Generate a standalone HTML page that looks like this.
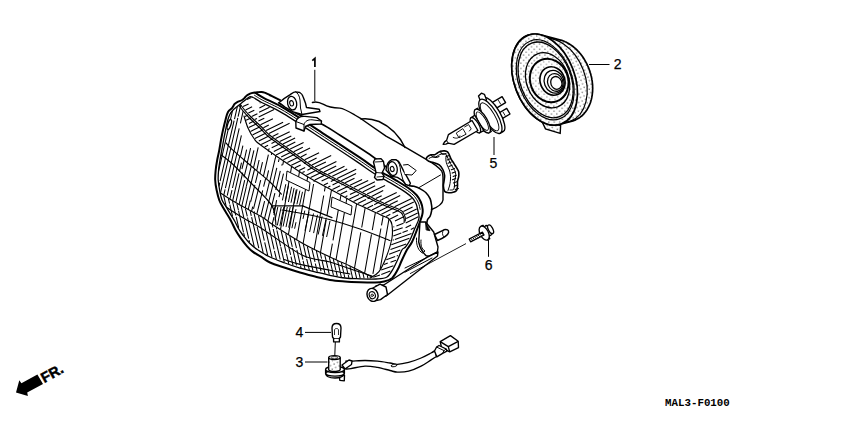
<!DOCTYPE html>
<html><head><meta charset="utf-8">
<style>
html,body{margin:0;padding:0;background:#fff;width:850px;height:425px;overflow:hidden}
svg{display:block}
</style></head><body>
<svg width="850" height="425" viewBox="0 0 850 425" style="font-family:'Liberation Sans',sans-serif">
<defs>
<pattern id="dots" width="5.4" height="5.4" patternUnits="userSpaceOnUse" patternTransform="rotate(20)"><circle cx="1" cy="1" r="0.62" fill="#000"/><circle cx="3.7" cy="3.7" r="0.55" fill="#000"/></pattern>
</defs>
<path d="M246.9 99.6L251.3 97.5M243.0 106.6L248.6 103.9M245.6 109.9L252.1 106.7M248.4 113.1L254.3 110.2M251.7 116.5L257.4 113.8M254.7 119.5L257.0 118.4" stroke="#000" stroke-width="1.10" fill="none"/>
<path d="M259.7 103.1L260.4 102.7M259.4 108.0L265.2 105.1M259.1 112.3L269.6 107.2M258.7 116.9L274.1 109.4M258.4 121.0L264.3 118.2M260.5 124.8L272.9 118.8M263.4 127.7L268.8 125.1M266.1 130.5L283.1 122.2M268.9 133.4L289.6 123.3M272.5 136.4L278.4 133.5M275.6 138.6L289.7 131.7M279.7 141.6L291.3 135.9M282.9 143.9L295.1 137.9M286.4 146.4L295.3 142.0M290.2 149.1L303.6 142.6M293.7 151.7L302.8 147.2M297.3 154.2L310.1 148.0M300.9 156.9L306.6 154.1M304.7 159.7L319.1 152.7M308.2 162.2L316.6 158.1M311.9 164.9L331.2 155.5M315.1 167.1L325.9 161.9M319.5 169.8L336.4 161.5M324.0 172.1L336.2 166.1M328.2 174.2L344.5 166.3M332.3 176.2L347.2 169.0M337.1 178.6L356.2 169.3M341.2 180.7L356.1 173.4M345.2 182.8L354.5 178.2M350.0 185.3L362.1 179.4M353.9 187.3L368.2 180.4M358.6 189.7L374.9 181.8M362.7 191.9L375.2 185.8M367.1 194.1L385.1 185.4M371.5 196.4L383.2 190.6M375.8 198.5L381.7 195.7M380.0 200.6L396.7 192.4M385.2 203.0L400.2 195.6M389.6 204.8L397.8 200.8M394.6 206.7L411.7 198.4M399.7 208.8L413.8 201.9M403.4 211.4L412.6 206.9M405.2 214.6L416.7 209.0M406.2 218.5L417.7 212.9M405.7 222.9L418.3 216.7M405.6 227.7L411.1 225.0M410.8 229.4L414.2 227.7" stroke="#000" stroke-width="1.10" fill="none"/>
<path d="M244.6 112.4L245.3 112.1M245.0 116.5L248.0 115.0M246.1 120.3L250.9 118.0M249.0 123.5L254.0 121.0M248.7 127.6L256.9 123.6M250.5 131.4L260.2 126.7M252.5 134.9L263.1 129.7M254.9 138.4L266.1 132.9M258.8 141.0L269.3 135.8M261.2 144.4L272.9 138.7M264.6 146.9L268.1 145.2M271.5 143.5L276.3 141.1M268.2 149.4L269.6 148.8M271.7 147.7L280.0 143.7M273.8 151.4L283.8 146.5M276.1 154.9L287.6 149.3M281.2 156.9L291.3 151.9M283.4 159.8L294.7 154.3M287.4 162.6L298.5 157.1M291.3 165.3L302.3 159.9M295.0 167.7L300.7 165.0M304.0 163.4L305.8 162.5M299.0 170.4L305.2 167.4M308.5 165.8L309.6 165.2M302.4 172.6L304.7 171.5M307.4 170.2L312.8 167.5M306.3 175.2L316.8 170.1M310.6 177.6L321.2 172.5M314.8 180.0L325.5 174.7M321.6 181.1L330.1 177.0M323.9 185.0L328.0 183.0M330.8 181.6L335.2 179.5M328.1 187.2L330.4 186.1M332.5 185.1L339.5 181.6M332.4 189.5L340.1 185.8M341.4 185.1L343.9 183.9M337.2 191.6L348.3 186.2M340.7 194.0L347.1 190.9M349.7 189.6L352.4 188.3M345.5 196.7L347.4 195.8M349.9 194.6L357.4 190.9M349.4 199.1L359.1 194.4M353.5 201.4L365.9 195.3M357.8 203.5L366.1 199.5M367.6 198.7L370.1 197.5M362.7 205.7L374.8 199.8M367.5 207.9L373.1 205.2M374.2 204.7L379.4 202.1M372.0 210.0L384.0 204.1M377.0 212.2L389.1 206.3M381.4 214.2L393.8 208.1M386.1 216.4L390.3 214.3M392.5 213.2L398.8 210.2M390.1 218.9L398.1 215.0M401.5 213.3L402.5 212.9M395.0 221.0L404.2 216.6" stroke="#000" stroke-width="1.10" fill="none"/>
<path d="M393.3 227.0L394.3 226.7M396.4 225.9L403.5 223.3M393.3 231.1L402.7 227.7M393.3 235.9L401.3 233.0M402.5 232.6L407.8 230.6M392.7 240.2L393.8 239.8M394.9 239.4L411.5 233.4M391.3 244.8L409.4 238.2M390.5 249.6L406.2 243.9M389.1 254.2L400.3 250.1M386.3 259.8L395.2 256.6M396.7 256.0L398.0 255.6M384.0 264.5L387.8 263.1M390.5 262.2L396.0 260.2M381.2 270.1L393.4 265.7M373.2 277.3L380.0 274.9M381.3 274.4L390.3 271.1" stroke="#000" stroke-width="1.05" fill="none"/>
<path d="M218.5 171.4L228.5 128.1M228.8 126.8L232.5 110.6M218.9 186.4L219.8 182.6M220.1 181.2L234.1 120.6M234.5 119.1L237.4 106.3M220.5 192.8L237.8 117.9M238.1 116.6L240.8 104.9M223.8 195.1L225.1 189.4M225.4 188.2L233.9 151.1M240.4 123.3L243.2 110.8M227.2 195.6L236.9 153.7M229.9 199.0L232.0 190.1M232.5 188.0L239.8 156.2M232.7 200.7L239.0 173.3M239.4 171.8L241.5 162.6M235.8 202.5L242.7 172.6M239.1 204.5L244.7 180.1M241.8 206.0L246.4 186.3M245.2 207.9L248.4 194.0M248.2 209.5L250.3 200.6M251.6 211.3L252.7 206.7M254.3 212.7L254.6 211.5" stroke="#000" stroke-width="1.05" fill="none"/>
<path d="M241.9 169.0L244.2 160.0M244.0 177.4L247.6 162.9M246.3 186.3L251.3 166.1M248.4 194.0L254.6 169.0M250.7 201.7L254.9 184.8M255.4 182.8L258.1 171.9M253.5 208.9L260.7 180.1M256.8 214.1L262.7 190.4M263.6 186.6L265.7 178.3M260.8 216.3L264.6 201.1M265.8 196.7L269.5 181.6M264.5 218.6L272.9 185.1M267.9 221.2L274.9 193.2M275.7 190.0L276.1 188.5M272.2 224.3L274.0 217.2M279.0 197.1L280.1 192.7M268.2 151.5L268.5 150.6M271.4 154.8L271.8 152.9M275.2 158.8L276.0 155.8M278.4 162.0L279.1 159.1M281.8 165.6L282.3 163.9" stroke="#000" stroke-width="1.05" fill="none"/>
<path d="M367.2 275.2L368.0 278.6M362.9 273.0L364.1 278.4M358.5 270.8L360.2 278.3M354.4 268.7L356.6 278.2M350.0 266.5L352.6 278.1M345.8 264.7L347.8 273.4M348.3 275.2L348.9 277.9M341.4 262.7L344.8 277.5M337.7 261.1L341.3 277.0M333.3 259.1L335.8 270.0M336.0 270.6L337.3 276.3M329.3 257.2L333.5 275.5M324.8 255.1L327.8 267.8M327.9 268.4L329.3 274.6M320.2 252.9L321.6 258.6M321.9 259.9L325.0 273.7M316.4 251.0L321.0 271.1M311.9 248.8L315.0 261.9M315.3 263.5L317.3 271.8M307.3 246.4L313.0 270.8M303.3 244.2L306.5 258.2M306.7 259.0L309.3 270.0M298.7 241.6L302.9 259.6M303.1 260.9L305.0 269.0M294.3 239.0L296.5 248.1M296.9 249.9L300.2 264.4M300.5 265.6L301.0 268.0M289.8 236.2L292.3 246.8M292.5 247.9L296.5 265.3M285.7 233.6L290.6 254.9M291.0 256.6L293.0 265.4M281.1 230.6L286.2 252.8M286.4 253.5L288.8 263.9M276.3 227.5L276.7 229.4M276.9 230.4L280.6 246.3M280.8 247.2L284.3 262.2M272.3 224.9L272.9 227.5M273.2 229.0L280.2 259.5M267.7 221.6L274.1 249.3M274.4 250.8L276.4 259.2M262.9 218.2L265.8 230.7M266.2 232.2L272.0 257.4M258.5 215.6L264.3 240.7M264.7 242.4L267.7 255.3M254.0 213.1L256.7 224.7M257.1 226.6L263.2 252.8M250.2 211.1L251.3 215.9M251.6 217.1L258.8 248.2M245.4 208.6L247.3 216.4M247.5 217.5L254.2 246.7M241.2 206.2L243.9 218.0M244.3 219.5L248.7 238.7M249.0 240.2L249.6 242.4M236.9 203.8L238.4 210.0M238.5 210.7L243.5 232.3M243.7 233.1L244.5 236.4M232.5 201.2L235.8 215.5M236.2 216.8L238.7 227.9M228.4 198.7L229.6 203.6M229.8 204.6L232.6 216.5M223.7 195.6L226.1 205.8" stroke="#000" stroke-width="1.05" fill="none"/>
<path d="M274.0 215.2L276.6 200.1M282.9 164.7L283.5 160.9M280.5 229.6L289.8 176.9M290.5 172.9L291.6 166.4M288.4 234.7L296.3 189.5M297.1 185.3L299.5 171.6M296.6 239.8L306.0 186.6M306.7 182.3L307.7 176.9M303.1 243.5L313.6 184.0M314.0 181.8L314.2 180.6M314.2 249.3L323.7 195.5M324.4 191.3L325.3 186.6M320.5 252.4L326.2 219.9M327.0 215.4L331.5 189.9M330.0 257.0L332.4 243.6M333.0 240.4L339.6 202.7M340.0 200.5L341.0 195.0M336.0 259.8L344.4 212.6M345.0 209.0L346.8 198.5M345.9 264.2L356.6 203.8M354.5 268.2L360.8 232.4M361.7 227.5L365.2 207.7M364.6 273.3L371.5 234.3M372.3 230.1L375.4 212.3M372.9 273.8L380.9 228.5M381.5 225.4L383.2 215.9M380.1 269.4L389.0 218.8" stroke="#000" stroke-width="1.05" fill="none"/>
<path d="M234.0 151.1L239.2 128.4M237.2 153.9L241.4 135.4M240.4 156.7L242.9 145.7M244.3 160.0L246.6 149.7M247.3 162.6L250.6 148.2M250.4 165.3L253.9 150.3M253.5 167.9L258.2 147.4M256.7 170.7L259.1 160.0M259.9 173.4L262.5 162.2M263.4 176.4L268.4 154.6M266.6 179.1L268.6 170.4M269.8 181.8L275.2 158.7M272.8 185.0L276.8 167.9M276.2 188.5L280.3 170.8M279.3 191.8L283.5 173.6" stroke="#000" stroke-width="1.05" fill="none"/>
<path d="M282.4 200.4L285.8 184.2M285.2 201.1L288.5 185.4M288.4 202.0L291.6 186.8M291.0 202.7L294.1 188.0M294.1 203.6L297.1 189.3M296.9 204.3L299.9 190.6M299.6 205.1L302.5 191.8M302.8 205.9L303.0 205.0" stroke="#000" stroke-width="1.00" fill="none"/>
<path d="M273.5 213.2L274.9 207.0M275.0 220.3L277.8 207.0M277.3 225.4L281.2 207.0M279.9 225.9L283.9 207.0M283.1 226.5L287.3 207.0M286.0 227.1L290.2 207.0M288.7 227.6L293.1 207.0M291.9 228.2L296.0 209.1M294.6 228.7L296.0 222.2" stroke="#000" stroke-width="1.00" fill="none"/>
<path d="M303.0 218.9L304.8 210.6M305.0 230.6L309.0 212.0M309.6 232.0L313.5 213.5M313.6 233.1L317.5 214.8M318.2 234.5L322.1 216.4M322.4 235.8L326.3 217.8M326.6 237.0L330.0 221.0" stroke="#000" stroke-width="1.00" fill="none"/>
<path d="M287.0,171.0 L310.0,182.5 L309.0,191.0 L286.0,180.0 Z" fill="#fff" stroke="#000" stroke-width="1"/>
<path d="M332.0,197.0 L352.0,206.0 L351.0,215.0 L331.0,207.0 Z" fill="#fff" stroke="#000" stroke-width="1"/>
<clipPath id="lc2"><path d="M253.2,97.5 C255.2,98.4 256.6,99.8 261.6,102.5 C266.7,105.2 273.2,107.4 283.4,113.6 C293.7,119.7 311.0,131.4 323.3,139.5 C335.6,147.5 348.8,156.2 357.2,161.9 C365.6,167.5 367.7,169.4 373.7,173.2 C379.8,177.0 388.0,181.4 393.4,184.6 C398.8,187.8 402.9,190.3 406.1,192.6 C409.3,194.8 411.0,196.4 412.7,198.3 C414.4,200.2 415.4,202.1 416.2,204.0 C417.0,205.9 417.2,207.2 417.6,209.5 C418.1,211.9 419.4,214.9 419.0,218.0 C418.6,221.1 416.5,224.3 415.0,228.0 C413.5,231.7 411.6,236.8 410.0,240.0 C408.4,243.2 406.9,245.3 405.5,247.0 C404.1,248.7 403.2,247.8 401.9,250.0 C400.6,252.2 398.9,256.9 397.5,260.0 C396.1,263.1 395.1,265.5 393.4,268.3 C391.6,271.1 389.9,275.2 387.0,277.0 C384.1,278.8 380.5,278.7 376.0,279.0 C371.5,279.3 365.2,279.0 360.0,278.8 C354.8,278.6 350.0,278.6 345.0,278.0 C340.0,277.4 335.0,276.3 330.0,275.3 C325.0,274.3 320.0,273.0 315.0,271.8 C310.0,270.6 305.0,269.7 300.0,268.2 C295.0,266.7 290.0,264.9 285.0,263.0 C280.0,261.1 274.6,259.2 270.0,257.0 C265.4,254.8 261.1,252.2 257.6,249.8 C254.1,247.4 251.7,245.3 249.2,242.8 C246.7,240.3 244.6,237.4 242.8,235.0 C241.0,232.6 239.6,230.5 238.3,228.2 C237.0,225.9 236.1,223.5 234.8,221.2 C233.5,218.8 231.9,216.4 230.5,214.1 C229.1,211.8 227.7,209.4 226.3,207.1 C224.9,204.8 223.1,202.8 222.0,200.0 C220.9,197.2 220.2,193.3 219.6,190.0 C219.0,186.7 218.4,183.3 218.2,180.0 C218.0,176.7 218.3,173.3 218.6,170.0 C218.9,166.7 219.5,163.3 220.0,160.0 C220.5,156.7 221.2,153.3 221.8,150.0 C222.4,146.7 223.0,143.3 223.6,140.0 C224.2,136.7 224.9,133.2 225.6,130.0 C226.2,126.8 226.8,123.6 227.5,121.0 C228.2,118.4 228.8,116.4 229.8,114.5 C230.8,112.6 232.1,111.0 233.5,109.5 C234.9,108.0 236.8,106.9 238.5,105.5 C240.2,104.1 242.2,102.5 244.0,101.0 C245.8,99.5 248.1,97.4 249.6,96.8 C251.1,96.2 251.2,96.5 253.2,97.5Z"/></clipPath>
<g fill="none" stroke="#000" stroke-width="1.15" stroke-linecap="round" clip-path="url(#lc2)">
<path d="M239.3,102.8 C240.1,103.9 242.2,107.1 244.2,109.5 C246.1,111.9 248.2,114.2 251.0,117.0 C253.8,119.8 258.0,123.5 261.1,126.5 C264.2,129.5 266.2,132.2 269.5,135.0 C272.8,137.8 275.9,139.8 281.0,143.5 C286.1,147.2 294.3,153.1 300.0,157.2 C305.7,161.3 310.7,165.2 315.0,168.0 C319.3,170.8 321.8,171.8 326.0,174.0 C330.2,176.2 331.2,176.5 340.0,181.0 C348.8,185.5 369.1,196.2 379.0,201.0 C388.9,205.8 395.3,207.6 399.3,209.5 C403.3,211.4 402.2,211.2 403.2,212.5 C404.2,213.8 404.9,216.0 405.2,217.4 C405.5,218.8 405.2,220.4 405.2,221.0"/>
<path d="M239.3,102.8 C240.1,103.9 242.2,107.1 244.2,109.5 C246.1,111.9 248.2,114.2 251.0,117.0 C253.8,119.8 258.0,123.5 261.1,126.5 C264.2,129.5 266.2,132.2 269.5,135.0 C272.8,137.8 275.9,139.8 281.0,143.5 C286.1,147.2 294.3,153.1 300.0,157.2 C305.7,161.3 310.7,165.2 315.0,168.0 C319.3,170.8 321.8,171.8 326.0,174.0 C330.2,176.2 331.2,176.5 340.0,181.0 C348.8,185.5 369.1,196.2 379.0,201.0 C388.9,205.8 395.3,207.6 399.3,209.5 C403.3,211.4 402.2,211.2 403.2,212.5 C404.2,213.8 404.9,216.0 405.2,217.4 C405.5,218.8 405.2,220.4 405.2,221.0" transform="translate(-1.1,1.5)"/>
<path d="M244.0,116.0 C244.7,118.0 246.3,124.2 248.0,128.0 C249.7,131.8 251.7,135.5 254.0,138.5 C256.3,141.5 254.3,140.4 262.0,146.0 C269.7,151.6 291.2,166.2 300.0,172.0 C308.8,177.8 308.3,177.2 315.0,181.0 C321.7,184.8 333.3,190.8 340.0,194.5 C346.7,198.2 347.6,199.3 355.0,203.0 C362.4,206.7 378.8,213.8 384.5,216.5 C390.2,219.2 388.2,218.1 389.5,219.5 C390.8,220.9 391.6,221.9 392.0,225.0 C392.4,228.1 392.9,232.8 392.0,238.0 C391.1,243.2 388.7,250.9 386.5,256.5 C384.3,262.1 381.8,268.0 379.0,271.6 C376.2,275.2 371.5,276.9 370.0,278.0"/>
<path d="M212.0,186.0 C213.7,187.3 217.3,190.7 222.0,193.9 C226.7,197.1 233.3,201.2 240.0,205.0 C246.7,208.8 256.4,213.7 262.0,217.0 C267.6,220.3 266.6,220.7 273.3,225.0 C280.0,229.3 292.6,237.6 302.0,242.9 C311.4,248.2 322.0,253.2 330.0,257.0 C338.0,260.9 344.7,263.5 350.0,266.0 C355.3,268.5 358.3,270.2 362.0,272.0 C365.7,273.8 370.3,276.2 372.0,277.0"/>
<path d="M220.0,201.0 C221.3,202.2 223.4,205.0 227.6,208.0 C231.8,211.0 239.3,215.6 245.0,219.0 C250.7,222.4 252.5,222.7 262.0,228.7 C271.5,234.7 290.7,249.4 302.0,255.0 C313.3,260.6 321.2,259.4 330.0,262.0 C338.8,264.6 348.0,268.2 355.0,270.5 C362.0,272.8 369.2,275.1 372.0,276.0"/>
<path d="M284.0,259.5 C286.7,260.3 292.3,262.6 300.0,264.4 C307.7,266.2 321.7,268.7 330.0,270.3 C338.3,271.9 346.7,273.4 350.0,274.0"/>
<path d="M226.0,143.0 C227.0,144.1 228.0,145.7 232.0,149.4 C236.0,153.1 243.7,159.6 250.0,165.0 C256.3,170.4 264.8,177.2 270.0,182.0 C275.2,186.8 279.5,192.1 281.4,194.1"/>
<path d="M220.0,154.0 C222.0,155.6 227.0,158.8 232.0,163.5 C237.0,168.2 243.3,174.9 250.0,182.0 C256.7,189.1 267.7,198.7 272.0,205.9 C276.3,213.1 275.3,221.8 276.0,225.0"/>
<path d="M272,205.9 L302.6,205.9 L332,217.6"/>
<path d="M282.0,210.0 C285.8,210.7 297.1,212.4 305.0,214.0 C312.9,215.6 320.2,217.0 329.4,219.5 C338.6,222.0 349.9,225.5 360.0,229.0 C370.1,232.5 385.0,238.6 390.0,240.5"/>
</g>
<ellipse cx="229.3" cy="124.5" rx="1.6" ry="5.2" transform="rotate(18 229.3 124.5)" fill="#fff" stroke="#000" stroke-width="1.3"/>
<g fill="none" stroke="#000" stroke-linecap="round" stroke-linejoin="round">
<path d="M255.8,93.2 C257.2,94.0 259.0,95.4 264.0,98.1 C269.0,100.8 275.7,103.1 286.0,109.3 C296.3,115.5 313.7,127.2 326.0,135.3 C338.3,143.4 351.6,152.1 360.0,157.7 C368.4,163.3 370.4,165.2 376.4,169.0 C382.4,172.8 390.6,177.1 396.0,180.3 C401.4,183.6 405.6,186.1 409.0,188.5 C412.4,190.9 414.5,192.8 416.5,195.0 C418.5,197.2 419.8,199.7 420.8,202.0 C421.8,204.3 422.4,206.8 422.6,209.0 C422.8,211.2 423.0,212.0 422.2,215.0 C421.4,218.0 419.7,222.5 418.0,227.0 C416.3,231.5 413.9,238.2 412.0,242.0 C410.1,245.8 408.6,246.8 406.8,250.0 C405.1,253.2 403.0,257.7 401.5,261.0 C400.0,264.3 399.2,266.9 397.6,269.8 C396.0,272.7 394.3,276.2 392.0,278.2 C389.7,280.1 386.8,280.8 384.0,281.5 C381.2,282.2 379.0,282.4 375.0,282.5 C371.0,282.6 365.0,282.4 360.0,282.2 C355.0,282.0 350.0,281.8 345.0,281.4 C340.0,281.0 335.0,280.7 330.0,279.9 C325.0,279.1 320.0,277.7 315.0,276.5 C310.0,275.3 305.0,273.9 300.0,272.5 C295.0,271.1 290.0,269.5 285.0,267.8 C280.0,266.1 274.0,264.3 270.0,262.5 C266.0,260.7 264.1,258.7 261.2,256.9 C258.3,255.1 255.0,253.4 252.7,251.6 C250.3,249.8 249.2,248.7 247.1,246.3 C245.0,243.9 241.9,239.8 240.0,237.1 C238.1,234.4 237.0,232.7 235.5,230.0 C234.0,227.3 232.6,223.8 231.2,221.2 C229.8,218.5 228.4,216.4 227.0,214.1 C225.6,211.8 224.1,209.4 222.8,207.1 C221.5,204.8 220.2,202.8 219.2,200.0 C218.2,197.2 217.3,193.3 216.6,190.0 C215.9,186.7 215.3,183.3 215.2,180.0 C215.0,176.7 215.4,173.3 215.7,170.0 C216.0,166.7 216.6,163.3 217.2,160.0 C217.8,156.7 218.7,153.3 219.3,150.0 C219.9,146.7 220.4,143.3 221.0,140.0 C221.6,136.7 222.2,133.4 223.0,130.0 C223.8,126.6 224.8,122.5 225.6,119.5 C226.4,116.5 226.9,114.0 228.0,112.0 C229.1,110.0 231.1,109.1 232.2,107.8 C233.3,106.5 233.6,105.2 234.4,104.2 C235.2,103.2 235.9,102.8 237.2,102.1 C238.5,101.4 240.9,100.7 242.1,100.0 C243.3,99.3 243.7,98.8 244.5,98.0 C245.3,97.2 245.9,96.2 246.8,95.5 C247.7,94.8 249.0,94.1 250.1,93.6 C251.2,93.1 252.2,92.9 253.4,92.7 C254.6,92.5 255.8,92.3 257.2,92.2 C258.6,92.1 260.4,91.9 261.6,92.0 C262.8,92.1 263.4,92.2 264.5,92.6 C265.6,93.0 266.8,93.7 268.0,94.2 C269.2,94.8 270.1,95.2 271.5,95.9 C272.9,96.6 275.1,97.7 276.5,98.4 C277.9,99.1 279.4,99.8 280.0,100.1" stroke-width="2.0"/>
<path d="M254.5,95.3 C255.9,96.2 257.8,97.6 262.8,100.3 C267.9,103.0 274.4,105.3 284.7,111.4 C295.0,117.6 312.3,129.3 324.6,137.4 C336.9,145.4 350.2,154.2 358.6,159.8 C367.0,165.4 369.1,167.3 375.1,171.1 C381.1,174.9 389.3,179.2 394.7,182.4 C400.1,185.7 404.2,188.2 407.5,190.5 C410.9,192.9 412.8,194.6 414.6,196.6 C416.4,198.7 417.6,200.9 418.5,203.0 C419.4,205.1 419.8,208.2 420.1,209.3" stroke-width="1.0"/>
<path d="M253.2,97.5 C255.2,98.4 256.6,99.8 261.6,102.5 C266.7,105.2 273.2,107.4 283.4,113.6 C293.7,119.7 311.0,131.4 323.3,139.5 C335.6,147.5 348.8,156.2 357.2,161.9 C365.6,167.5 367.7,169.4 373.7,173.2 C379.8,177.0 388.0,181.4 393.4,184.6 C398.8,187.8 402.9,190.3 406.1,192.6 C409.3,194.8 411.0,196.4 412.7,198.3 C414.4,200.2 415.4,202.1 416.2,204.0 C417.0,205.9 417.2,207.2 417.6,209.5 C418.1,211.9 419.4,214.9 419.0,218.0 C418.6,221.1 416.5,224.3 415.0,228.0 C413.5,231.7 411.6,236.8 410.0,240.0 C408.4,243.2 406.9,245.3 405.5,247.0 C404.1,248.7 403.2,247.8 401.9,250.0 C400.6,252.2 398.9,256.9 397.5,260.0 C396.1,263.1 395.1,265.5 393.4,268.3 C391.6,271.1 389.9,275.2 387.0,277.0 C384.1,278.8 380.5,278.7 376.0,279.0 C371.5,279.3 365.2,279.0 360.0,278.8 C354.8,278.6 350.0,278.6 345.0,278.0 C340.0,277.4 335.0,276.3 330.0,275.3 C325.0,274.3 320.0,273.0 315.0,271.8 C310.0,270.6 305.0,269.7 300.0,268.2 C295.0,266.7 290.0,264.9 285.0,263.0 C280.0,261.1 274.6,259.2 270.0,257.0 C265.4,254.8 261.1,252.2 257.6,249.8 C254.1,247.4 251.7,245.3 249.2,242.8 C246.7,240.3 244.6,237.4 242.8,235.0 C241.0,232.6 239.6,230.5 238.3,228.2 C237.0,225.9 236.1,223.5 234.8,221.2 C233.5,218.8 231.9,216.4 230.5,214.1 C229.1,211.8 227.7,209.4 226.3,207.1 C224.9,204.8 223.1,202.8 222.0,200.0 C220.9,197.2 220.2,193.3 219.6,190.0 C219.0,186.7 218.4,183.3 218.2,180.0 C218.0,176.7 218.3,173.3 218.6,170.0 C218.9,166.7 219.5,163.3 220.0,160.0 C220.5,156.7 221.2,153.3 221.8,150.0 C222.4,146.7 223.0,143.3 223.6,140.0 C224.2,136.7 224.9,133.2 225.6,130.0 C226.2,126.8 226.8,123.6 227.5,121.0 C228.2,118.4 228.8,116.4 229.8,114.5 C230.8,112.6 232.1,111.0 233.5,109.5 C234.9,108.0 236.8,106.9 238.5,105.5 C240.2,104.1 242.2,102.5 244.0,101.0 C245.8,99.5 248.1,97.4 249.6,96.8 C251.1,96.2 251.2,96.5 253.2,97.5Z" stroke-width="1.3"/>
<path d="M278.6,102.9 C279.8,103.6 282.4,105.2 286.0,107.2 C289.6,109.2 294.1,112.4 300.0,115.2 C305.9,118.0 314.9,120.7 321.6,124.0 C328.3,127.3 331.6,130.0 340.0,135.3 C348.4,140.6 363.6,150.2 371.9,156.0 C380.2,161.8 384.1,165.3 390.0,170.0 C395.9,174.7 403.4,181.7 407.4,184.4 C411.4,187.1 411.9,185.6 414.0,186.3 C416.1,187.0 417.8,187.5 419.8,188.6 C421.8,189.7 424.3,191.0 426.0,192.7 C427.7,194.4 429.2,196.7 430.2,198.9 C431.1,201.2 431.4,204.3 431.7,206.2 C431.9,208.1 431.9,208.7 431.7,210.3 C431.4,211.9 430.9,214.4 430.2,216.0 C429.5,217.6 428.1,218.0 427.4,220.0 C426.7,222.0 426.4,226.7 426.2,228.0" stroke-width="1.6"/>
</g>
<g fill="#fff" stroke="#000" stroke-width="1.4" stroke-linejoin="round" stroke-linecap="round">
<path d="M312.4,102.5 C315,101.5 318,101.5 323.6,104.4 C327,106.5 331,107.8 339.9,108.1 C344,108.6 348,111 354.8,115 L361,118.7 L386,136.1 L395,141.2 L426.2,159.3 C432,162.5 438,166 441.8,171.2 C443,173.5 443,176 443,177.4 L443,200 C442.5,204 438,207 431.5,209.5" fill="none"/>
<path d="M361,119 C366,118.3 372,118.8 379,121.5 C390,126.5 399,135 405,147.5" fill="none"/>
<path d="M419.3,187.4 L440.5,175" fill="none" stroke-width="1"/>
<path d="M426.4,158.9 C426.2,158.1 426.7,157.3 427.5,156.6 C428.3,155.9 429.8,155.1 431.0,154.8 C432.2,154.5 433.5,155.1 434.6,154.8 C435.7,154.5 436.5,153.6 437.5,153.0 C438.5,152.4 439.3,151.7 440.5,151.3 C441.7,151.0 443.4,150.8 444.6,150.9 C445.8,151.0 446.7,151.2 447.5,151.9 C448.3,152.6 448.7,153.6 449.3,154.8 C449.9,156.0 450.2,157.4 451.0,158.9 C451.8,160.4 453.0,162.0 454.0,163.6 C455.0,165.2 456.2,167.0 457.0,168.4 C457.8,169.8 458.4,170.5 458.7,171.9 C459.0,173.3 458.9,175.0 458.7,176.6 C458.5,178.2 457.7,179.7 457.5,181.3 C457.3,182.9 457.7,184.4 457.5,186.0 C457.3,187.6 457.3,189.6 456.4,190.7 C455.5,191.8 453.7,192.2 452.2,192.5 C450.7,192.8 448.8,192.7 447.5,192.5 C446.2,192.3 445.3,192.4 444.6,191.3 C443.9,190.2 443.5,187.7 443.4,186.0 C443.3,184.3 443.8,183.1 444.0,181.3 C444.2,179.5 444.8,177.4 444.6,175.4 C444.4,173.4 443.7,171.3 442.8,169.5 C441.9,167.7 440.9,166.0 439.3,164.8 C437.7,163.6 435.2,163.1 433.4,162.5 C431.6,161.9 429.9,161.9 428.7,161.3 C427.5,160.7 426.6,159.7 426.4,158.9Z" stroke-width="1.6"/>
<path d="M429.0,158.5 C429.5,158.2 430.9,157.2 432.0,157.0 C433.1,156.8 434.4,157.3 435.5,157.0 C436.6,156.7 437.5,155.8 438.5,155.3 C439.5,154.8 440.5,154.2 441.5,154.0 C442.5,153.8 443.7,153.6 444.5,153.8 C445.3,154.0 445.9,154.2 446.5,155.0 C447.1,155.8 447.3,157.1 448.0,158.5 C448.7,159.9 449.6,161.8 450.5,163.5 C451.4,165.2 452.7,167.0 453.5,168.5 C454.3,170.0 455.2,171.1 455.5,172.5 C455.8,173.9 455.7,175.5 455.5,177.0 C455.3,178.5 454.7,180.0 454.5,181.5 C454.3,183.0 454.7,184.7 454.5,186.0 C454.3,187.3 454.2,188.8 453.5,189.5 C452.8,190.2 450.6,189.9 450.0,190.0" fill="none" stroke-width="1.0"/>
<path d="M446.5,155 C445,159 446,163 448.5,168 C451,173 451,180 449.5,186 L448,190.5" fill="none" stroke-width="1.0"/>
<path d="M446.2,156.6 L449.4,155.4 M447.1,159.9 L450.3,158.7 M448.0,163.2 L451.2,162.0 M448.9,166.5 L452.1,165.3 M451.3,169.8 L454.5,168.6 M452.2,173.1 L455.4,171.9 M453.1,176.4 L456.3,175.2 M452.5,179.7 L455.7,178.5 M453.4,183.0 L456.6,181.8 M454.3,186.3 L457.5,185.1 M455.2,189.6 L458.4,188.4 " fill="none" stroke-width="1.1"/>
<path d="M431,155 C433,157.5 436,158 439,156.5 M440.5,151.3 C441,154 443,155 446,153.5" fill="none" stroke-width="1.1"/>
<path d="M279.2,102.5 C282,100 286,97 289.8,94.8 C292.5,93 294,91.8 295.6,91.9 L299.8,92.5 C301.5,93.5 302.5,94.8 303,96.5 L305.6,103.6 L306.5,107.5 L319.2,109.2 L320,111.5 L302,114.5 L293.3,111.9 L285,107 Z"/>
<path d="M295.6,91.9 C298,93 299.5,96 300,100 L300.5,108 L302,114.5" fill="none" stroke-width="1"/>
<ellipse cx="292.1" cy="103.1" rx="4.5" ry="6.8" transform="rotate(-12 292.1 103.1)" stroke-width="1.3"/>
<ellipse cx="291.6" cy="103.3" rx="1.9" ry="2.7" transform="rotate(-12 291.6 103.3)" stroke-width="1.1"/>
<path d="M295.8,121.5 C297,118 300.5,116 305,116.4 L316.8,117.6 L321.5,121 L321.2,124 L310,124.5 L305.5,126.5 L304,131 L296,128 Z"/>
<path d="M295.8,121.5 L304,124.5 L304,131 M304,124.5 C305,121 308,119.5 312,119.8 L321.2,121" fill="none" stroke-width="1"/>
<path d="M386,170 C386.5,165 388.5,161 391.5,159.8 L396.2,159.8 C398,160.5 399.2,161.8 399.8,163.3 L403.3,170.4 L408,178.6 L410.4,183.3 L409.2,185.6 L405.6,184.5 L403.3,181 L397.4,177.4 L391.5,176.2 Z"/>
<path d="M403.5,165 L408,164.5 L416.2,170.5 L412,175 L405,174.5" stroke-width="1"/>
<path d="M396.2,159.8 C399,162 400.5,166 400.5,171 L403.3,181" fill="none" stroke-width="1"/>
<ellipse cx="392.7" cy="168.6" rx="4.5" ry="7" transform="rotate(-12 392.7 168.6)" stroke-width="1.3"/>
<ellipse cx="392.2" cy="169" rx="1.9" ry="2.6" transform="rotate(-12 392.2 169)" stroke-width="1.1"/>
<path d="M373.5,162 L375,159 L381,158.6 L383.5,161.5 L384.5,168 L382,173 L384,176 L383,179.5 L377,180 L374.5,177.5 L376,172.5 Z"/>
<path d="M375,162 L383.5,161.5 M376,172.5 L382,173 M377,177 L383,176.5" fill="none" stroke-width="0.9"/>
<path d="M420,222 L418.7,242 C420,248 423,253 426.2,255.7 L428.7,256.3 L437.4,252 L438,247 L433.7,232 L425.6,222 Z"/>
<path d="M416.5,238 C416,245 418.5,251 422.5,253 L425,251 C421.5,249 420.5,245 421,240" fill="none" stroke-width="1"/>
<path d="M425.6,222.6 L430,230.7 L426.5,230 Z" fill="#000" stroke-width="0.8"/>
<path d="M434.5,234.5 L444,229.8 C447,229 449,230 448.6,232.5 C448,235 446,237 437.5,240.5 Z"/>
<path d="M443.5,230 C442,232 442,235 443.8,236.8" fill="none" stroke-width="0.9"/>
<path d="M376,286 L383.7,285 L427.4,257 L438,252 L437.5,256 L413,275 L386.2,296 L378,297 Z"/>
<path d="M405,268 L427,257.5 M405,272.2 L432,258" fill="none" stroke-width="1"/>
<path d="M372,288.5 L380,284.2 L386,287 L387.5,294.5 L380.5,299.6 L374,301 Z"/>
<ellipse cx="372.5" cy="294.9" rx="5.4" ry="6.6" transform="rotate(-20 372.5 294.9)" stroke-width="1.4"/>
<ellipse cx="372.3" cy="295.2" rx="3" ry="3.6" transform="rotate(-20 372.3 295.2)" stroke-width="1.1"/>
<circle cx="372.2" cy="295.3" r="1.2" stroke-width="0.9"/>
</g>
<path d="M466,243.6 L410,273.7" stroke="#000" stroke-width="0.9" fill="none"/>
<g fill="#000" stroke="#000" stroke-width="0.25" font-size="14">
<text x="613.7" y="69">2</text>
<text x="489.5" y="167.5">5</text>
<text x="484.8" y="270">6</text>
<text x="295.5" y="336.5">4</text>
<text x="295.5" y="366.5">3</text>
</g>
<g stroke="#000" stroke-width="1" fill="none">
<line x1="314.8" y1="69.8" x2="314.8" y2="101"/>
<path d="M312.3,60.6 L314.9,58.4 L314.9,67" fill="none" stroke-width="1.7" stroke-linejoin="miter"/>
<line x1="589" y1="64.5" x2="609.5" y2="64.5"/>
<line x1="494" y1="137" x2="494" y2="155"/>
<line x1="488.5" y1="240" x2="488.5" y2="256.8"/>
<line x1="305" y1="332.4" x2="331" y2="332.4"/>
<line x1="305" y1="362" x2="327.5" y2="362"/>
</g>
<text x="665" y="406" style="font-family:'Liberation Mono',monospace;font-weight:bold;font-size:10.8px" fill="#000">MAL3-F0100</text>

<path d="M540.5,118.5 L545.5,128.8 L560.2,133.3 L560.6,125.5 Z" fill="#fff" stroke="#000" stroke-width="1.4"/>
<path d="M540.5,118.5 L545.5,128.8 L560.2,133.3 L560.6,125.5 Z" fill="url(#dots)"/>
<path d="M535.1,34.1 L534.0,34.1 L532.9,34.2 L531.8,34.3 L530.8,34.5 L529.7,34.8 L528.7,35.1 L527.7,35.4 L526.8,35.8 L525.8,36.3 L524.9,36.8 L524.0,37.3 L523.1,38.0 L522.2,38.6 L521.4,39.3 L520.6,40.1 L519.8,40.9 L519.1,41.8 L518.4,42.7 L517.7,43.6 L517.1,44.6 L516.5,45.6 L515.9,46.7 L515.3,47.8 L514.8,49.0 L514.4,50.2 L513.9,51.4 L513.5,52.7 L513.2,54.0 L512.9,55.3 L512.6,56.7 L512.3,58.0 L512.1,59.4 L512.0,60.9 L511.9,62.3 L511.8,63.8 L511.7,65.3 L511.7,66.8 L511.8,68.4 L511.8,69.9 L512.0,71.5 L512.1,73.0 L512.3,74.6 L512.6,76.2 L512.8,77.8 L513.1,79.4 L513.5,81.0 L513.9,82.5 L514.3,84.1 L514.8,85.7 L515.3,87.3 L515.8,88.8 L516.4,90.4 L517.0,91.9 L517.6,93.4 L518.3,94.9 L519.0,96.4 L519.7,97.9 L520.5,99.3 L521.3,100.7 L522.1,102.1 L523.0,103.5 L523.9,104.8 L524.8,106.1 L525.7,107.4 L526.6,108.7 L527.6,109.9 L528.6,111.0 L529.6,112.2 L530.6,113.2 L531.7,114.3 L532.8,115.3 L533.8,116.3 L534.9,117.2 L536.0,118.0 L537.1,118.9 L538.3,119.6 L539.4,120.4 L540.5,121.1 L541.7,121.7 L542.8,122.3 L544.0,122.8 L545.1,123.3 L546.3,123.7 L547.4,124.0 L548.5,124.3 L549.7,124.6 L550.8,124.8 L551.9,125.0 L553.0,125.0 L554.1,125.1 L555.2,125.1 L556.3,125.0 L557.4,124.9 L558.4,124.7 L559.5,124.4 L571.9,121.2 L573.0,120.9 L574.1,120.5 L575.1,120.1 L576.1,119.6 L577.1,119.1 L578.1,118.6 L579.0,118.0 L579.9,117.4 L580.8,116.7 L581.7,116.0 L582.6,115.2 L583.4,114.4 L584.2,113.5 L584.9,112.6 L585.6,111.7 L586.3,110.7 L587.0,109.7 L587.6,108.7 L588.2,107.6 L588.8,106.5 L589.3,105.3 L589.8,104.2 L590.3,103.0 L590.7,101.7 L591.0,100.5 L591.4,99.2 L591.7,97.9 L591.9,96.6 L592.2,95.2 L592.3,93.9 L592.5,92.5 L592.6,91.1 L592.6,89.7 L592.7,88.3 L592.6,86.9 L592.6,85.4 L592.5,84.0 L592.3,82.5 L592.2,81.1 L591.9,79.7 L591.7,78.2 L591.4,76.8 L591.0,75.3 L590.7,73.9 L590.2,72.5 L589.8,71.1 L589.3,69.7 L588.8,68.3 L588.2,66.9 L587.6,65.5 L587.0,64.2 L586.3,62.9 L585.6,61.6 L584.9,60.3 L584.1,59.0 L583.3,57.8 L582.5,56.6 L581.7,55.5 L580.8,54.3 L579.9,53.2 L579.0,52.1 L578.0,51.1 L577.1,50.1 L576.1,49.1 L575.0,48.2 L574.0,47.3 L573.0,46.5 L571.9,45.7 L570.8,44.9 L569.7,44.2 L568.6,43.5 L567.5,42.9 L566.4,42.3 L565.2,41.8 L564.1,41.3 L562.9,40.8 L561.8,40.4 L560.6,40.1 L540.7,34.9 L539.5,34.6 L538.4,34.4 L537.3,34.2 L536.2,34.2Z" fill="#fff" stroke="#000" stroke-width="1.7"/>
<path d="M535.1,34.1 L534.0,34.1 L532.9,34.2 L531.8,34.3 L530.8,34.5 L529.7,34.8 L528.7,35.1 L527.7,35.4 L526.8,35.8 L525.8,36.3 L524.9,36.8 L524.0,37.3 L523.1,38.0 L522.2,38.6 L521.4,39.3 L520.6,40.1 L519.8,40.9 L519.1,41.8 L518.4,42.7 L517.7,43.6 L517.1,44.6 L516.5,45.6 L515.9,46.7 L515.3,47.8 L514.8,49.0 L514.4,50.2 L513.9,51.4 L513.5,52.7 L513.2,54.0 L512.9,55.3 L512.6,56.7 L512.3,58.0 L512.1,59.4 L512.0,60.9 L511.9,62.3 L511.8,63.8 L511.7,65.3 L511.7,66.8 L511.8,68.4 L511.8,69.9 L512.0,71.5 L512.1,73.0 L512.3,74.6 L512.6,76.2 L512.8,77.8 L513.1,79.4 L513.5,81.0 L513.9,82.5 L514.3,84.1 L514.8,85.7 L515.3,87.3 L515.8,88.8 L516.4,90.4 L517.0,91.9 L517.6,93.4 L518.3,94.9 L519.0,96.4 L519.7,97.9 L520.5,99.3 L521.3,100.7 L522.1,102.1 L523.0,103.5 L523.9,104.8 L524.8,106.1 L525.7,107.4 L526.6,108.7 L527.6,109.9 L528.6,111.0 L529.6,112.2 L530.6,113.2 L531.7,114.3 L532.8,115.3 L533.8,116.3 L534.9,117.2 L536.0,118.0 L537.1,118.9 L538.3,119.6 L539.4,120.4 L540.5,121.1 L541.7,121.7 L542.8,122.3 L544.0,122.8 L545.1,123.3 L546.3,123.7 L547.4,124.0 L548.5,124.3 L549.7,124.6 L550.8,124.8 L551.9,125.0 L553.0,125.0 L554.1,125.1 L555.2,125.1 L556.3,125.0 L557.4,124.9 L558.4,124.7 L559.5,124.4 L571.9,121.2 L573.0,120.9 L574.1,120.5 L575.1,120.1 L576.1,119.6 L577.1,119.1 L578.1,118.6 L579.0,118.0 L579.9,117.4 L580.8,116.7 L581.7,116.0 L582.6,115.2 L583.4,114.4 L584.2,113.5 L584.9,112.6 L585.6,111.7 L586.3,110.7 L587.0,109.7 L587.6,108.7 L588.2,107.6 L588.8,106.5 L589.3,105.3 L589.8,104.2 L590.3,103.0 L590.7,101.7 L591.0,100.5 L591.4,99.2 L591.7,97.9 L591.9,96.6 L592.2,95.2 L592.3,93.9 L592.5,92.5 L592.6,91.1 L592.6,89.7 L592.7,88.3 L592.6,86.9 L592.6,85.4 L592.5,84.0 L592.3,82.5 L592.2,81.1 L591.9,79.7 L591.7,78.2 L591.4,76.8 L591.0,75.3 L590.7,73.9 L590.2,72.5 L589.8,71.1 L589.3,69.7 L588.8,68.3 L588.2,66.9 L587.6,65.5 L587.0,64.2 L586.3,62.9 L585.6,61.6 L584.9,60.3 L584.1,59.0 L583.3,57.8 L582.5,56.6 L581.7,55.5 L580.8,54.3 L579.9,53.2 L579.0,52.1 L578.0,51.1 L577.1,50.1 L576.1,49.1 L575.0,48.2 L574.0,47.3 L573.0,46.5 L571.9,45.7 L570.8,44.9 L569.7,44.2 L568.6,43.5 L567.5,42.9 L566.4,42.3 L565.2,41.8 L564.1,41.3 L562.9,40.8 L561.8,40.4 L560.6,40.1 L540.7,34.9 L539.5,34.6 L538.4,34.4 L537.3,34.2 L536.2,34.2Z" fill="url(#dots)"/>
<ellipse cx="555.0" cy="80.5" rx="43.5" ry="30.2" transform="rotate(69 555.0 80.5)" fill="none" stroke="#000" stroke-width="1.2"/>
<ellipse cx="544.6" cy="79.6" rx="47.3" ry="30.2" transform="rotate(69.1 544.6 79.6)" fill="#fff" stroke="#000" stroke-width="1.7"/>
<ellipse cx="544.6" cy="79.6" rx="47.3" ry="30.2" transform="rotate(69.1 544.6 79.6)" fill="url(#dots)"/>
<ellipse cx="545.2" cy="79.8" rx="41.6" ry="26.6" transform="rotate(69.1 545.2 79.8)" fill="none" stroke="#000" stroke-width="1.2"/>
<ellipse cx="545.6" cy="79.9" rx="39.3" ry="25.4" transform="rotate(69.1 545.6 79.9)" fill="none" stroke="#000" stroke-width="1.3"/>
<ellipse cx="547.6" cy="80.3" rx="28.4" ry="21.1" transform="rotate(69.1 547.6 80.3)" fill="#fff" stroke="#000" stroke-width="1.3"/>
<ellipse cx="547.6" cy="80.3" rx="28.4" ry="21.1" transform="rotate(69.1 547.6 80.3)" fill="url(#dots)"/>
<ellipse cx="549.2" cy="80.5" rx="22.1" ry="18.9" transform="rotate(69 549.2 80.5)" fill="#fff" stroke="#000" stroke-width="2.0"/>
<ellipse cx="549.2" cy="80.5" rx="22.1" ry="18.9" transform="rotate(69 549.2 80.5)" fill="url(#dots)" fill-opacity="0.7"/>
<ellipse cx="552.5" cy="81" rx="14.5" ry="12.3" transform="rotate(69 552.5 81)" fill="#fff" stroke="#000" stroke-width="1.6"/>
<ellipse cx="554.1" cy="81.8" rx="11.6" ry="9.8" transform="rotate(69 554.1 81.8)" fill="none" stroke="#000" stroke-width="1.3"/>
<ellipse cx="555.3" cy="82.4" rx="9.0" ry="7.6" transform="rotate(69 555.3 82.4)" fill="none" stroke="#000" stroke-width="1.3"/>
<ellipse cx="556.3" cy="82.9" rx="6.5" ry="5.5" transform="rotate(69 556.3 82.9)" fill="none" stroke="#000" stroke-width="1.3"/>
<g fill="#fff" stroke="#000" stroke-width="1.35" stroke-linejoin="round">
<path d="M489.1,104.3 L502.1,96.7 L505.6,102.7 L492.7,110.3 Z"/>
<path d="M495.5,115.0 L506.7,108.4 L510.0,114.0 L498.8,120.6 Z"/>
<path d="M498.3,100.1 L500.8,104.4" fill="none" stroke-width="0.9"/>
<path d="M502.9,111.8 L505.2,115.7" fill="none" stroke-width="0.9"/>
<path d="M480.5,99.5 L483.5,97.7 L503.4,131.3 L500.4,133.1 Z"/>
<ellipse cx="493.5" cy="114.5" rx="6.5" ry="19.5" transform="rotate(-30.6 493.5 114.5)"/>
<path d="M480.9,102.2 L478.5,96.1 L481.4,93.2 L484.4,94.3 L486.6,100.0 Z"/>
<ellipse cx="490.4" cy="116.3" rx="7.0" ry="19.5" transform="rotate(-30.6 490.4 116.3)" stroke-width="1.3"/>
<ellipse cx="489.6" cy="116.8" rx="5.2" ry="16.0" transform="rotate(-30.6 489.6 116.8)" fill="none" stroke-width="0.9"/>
<path d="M475.0,109.8 L477.5,108.2 L491.3,131.5 L488.7,133.0 Z"/>
<ellipse cx="482.3" cy="121.1" rx="5.0" ry="13.5" transform="rotate(-30.6 482.3 121.1)"/>
<ellipse cx="482.3" cy="121.1" rx="3.6" ry="10.5" transform="rotate(-30.6 482.3 121.1)" fill="none" stroke-width="0.9"/>
<path d="M470.6,118.1 L474.7,115.2 L483.8,130.7 L479.3,132.8 Z"/>
<ellipse cx="475.4" cy="125.2" rx="3.4" ry="8.7" transform="rotate(-30.6 475.4 125.2)"/>
<path d="M443.1,144.3 L444.6,141.9 L446.6,140.4 L448.4,134.6 L472.0,120.5 L477.9,130.5 L454.1,144.3 L448.2,143.1 L445.9,144.1 Z"/>
<path d="M446.6,140.4 L448.2,143.1" fill="none" stroke-width="0.9"/>
<path d="M456.2,133.1 L462.8,128.6 L466.1,134.2 L459.0,137.8 Z" fill="none" stroke-width="0.9"/>
<path d="M464.3,127.1 L468.6,124.6 L471.2,128.9 L469.1,131.3" fill="none" stroke-width="0.9"/>
<path d="M452.9,137.3 C456.2,138.9 459.3,138.2 460.0,135.5" fill="none" stroke-width="0.9"/>
</g>
<g fill="#fff" stroke="#000" stroke-width="1.35" stroke-linejoin="round">
<path d="M482.8,228.2 L485.9,225.5 L489.5,225.9 L492.6,232.2 L490.9,235.3 L486.9,236.2 Z"/>
<ellipse cx="0" cy="0" rx="2.2" ry="4.8" transform="translate(490.6,229.3) rotate(-27.0)"/>
<path d="M480.8,226.5 L483.0,225.3 L489.8,238.7 L487.6,239.8 Z"/>
<ellipse cx="0" cy="0" rx="4.2" ry="7.6" transform="translate(484.2,233.1) rotate(-27.0)"/>
<path d="M469.2,239.0 L482.5,232.2 L484.0,235.0 L470.6,241.8 Z"/>
<path d="M470.5,238.3 L473.0,240.6 M472.3,237.4 L474.8,239.7 M474.1,236.5 L476.6,238.8 M475.9,235.6 L478.4,237.9 M477.6,234.7 L480.2,237.0 M479.4,233.8 L481.9,236.1 M481.2,232.8 L483.7,235.2" fill="none" stroke-width="0.9"/>
</g>
<g fill="#fff" stroke="#000" stroke-width="1.35" stroke-linejoin="round">
<path d="M346.0,361.0 C346.8,361.0 347.7,361.3 350.9,361.2 C354.1,361.1 360.6,360.5 365.0,360.5 C369.4,360.5 373.3,360.8 377.5,361.2 C381.7,361.6 386.7,362.5 390.0,363.0 C393.3,363.5 394.3,364.4 397.4,364.3 C400.5,364.2 404.7,363.4 408.6,362.4 C412.6,361.3 417.4,359.6 421.1,358.0 C424.9,356.4 428.8,354.2 431.1,353.0 C433.4,351.8 434.4,350.9 435.0,350.5 L436.5,356.5 C435.6,357.1 433.7,358.3 431.1,359.9 C428.5,361.5 424.9,364.2 421.1,366.1 C417.4,368.0 412.6,370.1 408.6,371.1 C404.7,372.1 400.5,372.2 397.4,372.1 C394.3,372.0 393.3,371.3 390.0,370.5 C386.7,369.7 381.7,368.1 377.5,367.4 C373.3,366.7 369.4,365.9 365.0,366.1 C360.6,366.3 354.1,368.1 350.9,368.6 C347.7,369.1 346.8,368.9 346.0,369.0Z"/>
<ellipse cx="394" cy="365.5" rx="3" ry="1.2" transform="rotate(-10 394 365.5)" stroke-width="0.9"/>
<path d="M440.2,341.6 L450.4,335.6 L458.2,341.3 L458.5,347.6 L449.7,351.9 L441.5,347.5 Z"/>
<path d="M440.2,341.6 L448.3,346.6 L458.2,341.3 M448.3,346.6 L449.7,351.9" fill="none"/>
<path d="M434.5,351 L436.6,347 L439,345.5 L446.2,349 L446.9,351.2 L442.6,353.3 L436.8,356.8 Z"/>
<path d="M436.6,347 L444,350.6 L442.6,353.3 M444,350.6 L446.2,349" fill="none" stroke-width="1"/>
<path d="M339.4,376 L339.8,380.3 L344.3,380.8 L344.5,375" />
<path d="M325.6,369.5 L325.6,373.5 C326,376.5 330.5,378 335,378 C339.5,378 344.2,376.5 344.4,373.5 L344.4,369.5 Z"/>
<ellipse cx="335" cy="373.3" rx="9.4" ry="2.9" fill="none"/>
<ellipse cx="335" cy="369.5" rx="9.4" ry="3.1" />
<path d="M328.7,357.6 L328.7,369.8 C330,372 338.5,372 340.2,369.8 L340.2,357.6" fill="#fff"/>
<path d="M328.7,357.6 L328.7,369.8 C330,372 338.5,372 340.2,369.8 L340.2,357.6" fill="url(#dots)" stroke="none"/>
<ellipse cx="334.45" cy="357.6" rx="5.75" ry="2" stroke-width="1.4"/>
<ellipse cx="334.45" cy="357.7" rx="3.6" ry="1.1" stroke-width="0.8"/>
<path d="M342,365 L349,360 L352,361 L351.5,364.5 L345,369 Z"/>
<path d="M332.5,337 L332,328 C332,322 341,322 341,328 L340.5,337 L339.4,338.5 L339.4,341.9 L333.6,341.9 L333.6,338.5 Z"/>
<path d="M334.5,335 L334.5,330 C334.5,328 338.5,328 338.5,330 L338.5,335 M333.6,338.5 L339.4,338.5" fill="none" stroke-width="0.8"/>
</g>
<line x1="335.3" y1="342" x2="334.8" y2="355.5" stroke="#000" stroke-width="1"/>
<path d="M16,392.4 L19.3,380.2 L21.4,383.2 L37.4,374.6 L43,383.9 L27.2,392.6 L27.9,396 Z" fill="#000"/>
<text x="0" y="0" transform="translate(44.2,383.2) rotate(-29)" style="font-family:'Liberation Sans';font-weight:bold;font-size:14.5px" fill="#000" stroke="#000" stroke-width="0.5">FR.</text></svg>
</body></html>
